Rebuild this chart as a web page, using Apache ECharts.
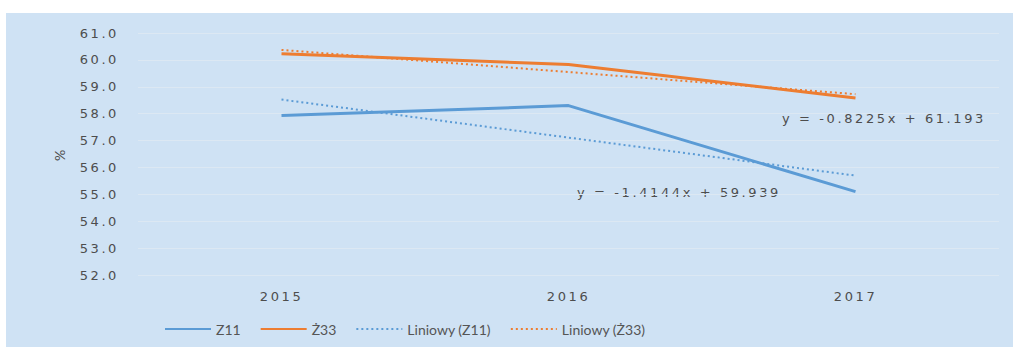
<!DOCTYPE html>
<html>
<head>
<meta charset="utf-8">
<script src="https://cdn.jsdelivr.net/npm/echarts@6/dist/echarts.min.js"></script>
<style>
  html, body { margin: 0; padding: 0; background: #ffffff; }
  #chart { position: absolute; left: 6px; top: 13px; width: 1007px; height: 334px; background: #cfe2f4; }
  /* wide, airy look for axis labels and trend equations */
  #chart text[fill="#4d4d4d"] { letter-spacing: 2.6px; }
</style>
</head>
<body>
<div id="chart"></div>
<script>
// Years on the category axis
const years = ['2015', '2016', '2017'];
// Measured shares (%)
const z11 = [57.93, 58.30, 55.10];
const z33 = [60.23, 59.83, 58.585];
// Linear trend coefficients (x = 1, 2, 3)
const trendZ11 = { slope: -1.4144, intercept: 59.939 };
const trendZ33 = { slope: -0.8225, intercept: 61.193 };
// Y axis range
const yMin = 52, yMax = 61, yStep = 1;

const trendValues = t => years.map((_, i) => +(t.slope * (i + 1) + t.intercept).toFixed(4));
const eqText = t => 'y = ' + t.slope + 'x + ' + t.intercept;

const blue = '#5b9bd5', orange = '#ed7d31';
const axisTxt = '#4d4d4d', legendTxt = '#555555';
const wideFont = 'DejaVu Sans, sans-serif';
const font = 'Lato, sans-serif';

const chart = echarts.init(document.getElementById('chart'), null, { renderer: 'svg' });
chart.setOption({
  animation: false,
  textStyle: { fontFamily: font, color: axisTxt },
  grid: { left: 132, top: 20, width: 861, height: 242 },
  xAxis: {
    type: 'category', data: years, boundaryGap: true,
    axisLine: { show: false }, axisTick: { show: false },
    axisLabel: { color: axisTxt, fontSize: 13, margin: 15, fontFamily: wideFont }
  },
  yAxis: {
    type: 'value', min: yMin, max: yMax, interval: yStep,
    name: '%', nameLocation: 'middle', nameGap: 72, nameRotate: 90,
    nameTextStyle: { color: axisTxt, fontSize: 14, fontFamily: font },
    axisLabel: { color: axisTxt, fontSize: 13, margin: 19, fontFamily: wideFont, formatter: v => v.toFixed(1) },
    splitLine: { lineStyle: { color: '#dce8f3', width: 1 } }
  },
  legend: {
    bottom: 6, left: 153, itemWidth: 46, itemHeight: 10, itemGap: 19,
    itemStyle: { opacity: 0 },
    textStyle: { color: legendTxt, fontSize: 14, fontFamily: font },
    data: ['Z11', 'Ż33', 'Liniowy (Z11)', 'Liniowy (Ż33)']
  },
  series: [
    { name: 'Z11', type: 'line', data: z11, showSymbol: false,
      lineStyle: { color: blue, width: 3 }, itemStyle: { color: blue } },
    { name: 'Ż33', type: 'line', data: z33, showSymbol: false,
      lineStyle: { color: orange, width: 3 }, itemStyle: { color: orange } },
    { name: 'Liniowy (Z11)', type: 'line', data: trendValues(trendZ11), showSymbol: false,
      lineStyle: { color: blue, width: 2, type: [2, 3] }, itemStyle: { color: blue } },
    { name: 'Liniowy (Ż33)', type: 'line', data: trendValues(trendZ33), showSymbol: false,
      lineStyle: { color: orange, width: 2, type: [2, 3] }, itemStyle: { color: orange } }
  ],
  graphic: [
    { type: 'text', left: 776, top: 99, style: { text: eqText(trendZ33), fill: axisTxt, fontSize: 13, fontFamily: wideFont } },
    { type: 'text', left: 571, top: 173, style: { text: eqText(trendZ11), fill: axisTxt, fontSize: 13, fontFamily: wideFont } }
  ]
});
</script>
</body>
</html>
